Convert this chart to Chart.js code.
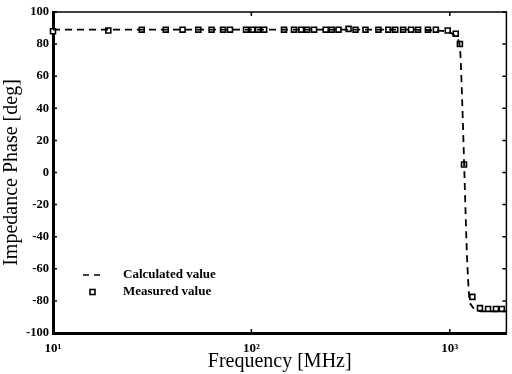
<!DOCTYPE html>
<html>
<head>
<meta charset="utf-8">
<script src="https://cdn.jsdelivr.net/npm/chart.js@4/dist/chart.umd.min.js"></script>
<style>
  html, body { margin: 0; padding: 0; background: #fff; }
  #wrap { width: 512px; height: 374px; }
</style>
</head>
<body>
<div id="wrap"><canvas id="phaseChart" width="512" height="374"></canvas></div>
<script>
// calculated curve
const calcFreq = [10, 50, 200, 600, 850, 950, 1030, 1080, 1125, 1155, 1185, 1220, 1255, 1290, 1330, 1380, 1480, 1930];
const calcPhase = [89, 89, 89, 89, 88.5, 88, 86.5, 84, 78, 45, 0, -50, -78, -83, -85, -86, -86.5, -86.5];

// measured points
const measFreq = [10, 19, 28, 37, 45, 54, 63, 72, 78, 94, 101, 108, 116, 146, 164, 178, 191, 207, 237, 254, 275, 309, 335, 376, 437, 490, 531, 582, 638, 692, 776, 851, 977, 1072, 1125, 1180, 1300, 1420, 1560, 1710, 1830];
const measPhase = [88, 88.5, 89, 89, 89, 89, 89, 89, 89, 89, 89, 89, 89, 89, 89, 89, 89, 89, 89, 89, 89, 89.5, 89, 89, 89, 89, 89, 89, 89, 89, 89, 89, 88.5, 86.5, 80, 5, -77.5, -84.5, -85, -85, -85];

const yTicks = [-100, -80, -60, -40, -20, 0, 20, 40, 60, 80, 100];
const xTicks = [10, 100, 1000];
const xTickLabels = ["10\u00b9", "10\u00b2", "10\u00b3"];

const serif = "'Liberation Serif', 'DejaVu Serif', serif";

// frame, inward ticks on all sides and the legend
const framePlugin = {
    id: "frame",
    afterDraw(chart) {
        const ctx = chart.ctx;
        const a = chart.chartArea;
        const xs = chart.scales.x;
        const ys = chart.scales.y;
        ctx.save();
        ctx.strokeStyle = "#000";
        ctx.lineWidth = 1.5;
        ctx.beginPath();
        ctx.moveTo(a.left, a.top);
        ctx.lineTo(a.right, a.top);
        ctx.lineTo(a.right, a.bottom);
        ctx.stroke();

        yTicks.forEach(function (v) {
            let p = ys.getPixelForValue(v);
            ctx.beginPath();
            ctx.moveTo(a.left, p); ctx.lineTo(a.left + 4, p);
            ctx.moveTo(a.right, p); ctx.lineTo(a.right - 4, p);
            ctx.stroke();
        });
        xTicks.forEach(function (v) {
            let p = xs.getPixelForValue(v);
            ctx.beginPath();
            ctx.moveTo(p, a.bottom); ctx.lineTo(p, a.bottom - 4);
            ctx.moveTo(p, a.top); ctx.lineTo(p, a.top + 4);
            ctx.stroke();
        });

        // legend
        let lx = a.left + 30;
        let ly1 = a.top + 263;
        let ly2 = a.top + 280;
        ctx.setLineDash([6, 5]);
        ctx.lineWidth = 1.6;
        ctx.beginPath();
        ctx.moveTo(lx, ly1); ctx.lineTo(lx + 19, ly1);
        ctx.stroke();
        ctx.setLineDash([]);
        ctx.fillStyle = "#fff";
        ctx.fillRect(lx + 7, ly2 - 2.5, 5, 5);
        ctx.strokeRect(lx + 7, ly2 - 2.5, 5, 5);
        ctx.fillStyle = "#000";
        ctx.font = "bold 13px " + serif;
        ctx.textBaseline = "middle";
        ctx.fillText("Calculated value", lx + 40, ly1);
        ctx.fillText("Measured value", lx + 40, ly2);
        ctx.restore();
    }
};

let ctx = document.getElementById("phaseChart").getContext("2d");
new Chart(ctx, {
    type: "line",
    data: {
        datasets: [{
            label: "Calculated value",
            data: calcFreq.map((f, i) => ({ x: f, y: calcPhase[i] })),
            borderColor: "#000",
            borderWidth: 1.8,
            borderDash: [7, 5],
            pointRadius: 0,
            cubicInterpolationMode: "monotone",
            fill: false
        }, {
            label: "Measured value",
            data: measFreq.map((f, i) => ({ x: f, y: measPhase[i] })),
            showLine: false,
            clip: 8,
            pointStyle: "rect",
            pointRadius: 3.5,
            pointBorderWidth: 1.6,
            pointBorderColor: "#000",
            pointBackgroundColor: "#fff"
        }]
    },
    options: {
        responsive: false,
        animation: false,
        layout: { padding: { top: 12, right: 0, left: 0, bottom: 0 } },
        plugins: {
            legend: { display: false },
            tooltip: { enabled: false }
        },
        scales: {
            x: {
                type: "logarithmic",
                min: 10,
                max: 1930,
                grid: { display: false, drawTicks: false },
                border: { display: true, color: "#000", width: 3 },
                afterBuildTicks: function (scale) {
                    scale.ticks = xTicks.map(v => ({ value: v }));
                },
                afterFit: function (scale) { scale.height = 41; },
                ticks: {
                    autoSkip: false,
                    maxRotation: 0,
                    padding: 8,
                    color: "#000",
                    font: { family: serif, size: 13, weight: "bold" },
                    callback: function (v) {
                        let i = xTicks.indexOf(v);
                        return i >= 0 ? xTickLabels[i] : "";
                    }
                },
                title: {
                    display: true,
                    text: "Frequency [MHz]",
                    color: "#000",
                    padding: { top: 0, bottom: 0 },
                    font: { family: serif, size: 20 }
                }
            },
            y: {
                min: -100,
                max: 100,
                grid: { display: false, drawTicks: false },
                border: { display: true, color: "#000", width: 3 },
                afterBuildTicks: function (scale) {
                    scale.ticks = yTicks.map(v => ({ value: v }));
                },
                afterFit: function (scale) { scale.width = 53; },
                ticks: {
                    padding: 4,
                    color: "#000",
                    font: { family: serif, size: 12.5, weight: "bold" }
                },
                title: {
                    display: true,
                    text: "Impedance Phase [deg]",
                    color: "#000",
                    padding: { top: 0, bottom: 2 },
                    font: { family: serif, size: 20 }
                }
            }
        }
    },
    plugins: [framePlugin]
});
</script>
</body>
</html>
